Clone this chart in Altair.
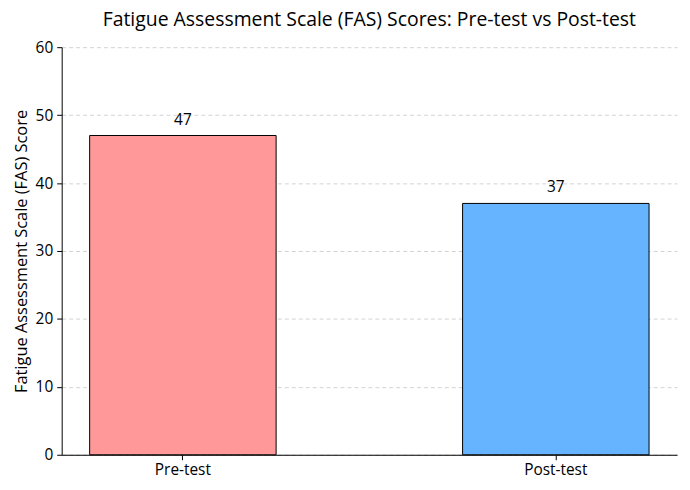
import altair as alt
import pandas as pd

categories = ["Pre-test", "Post-test"]
scores = [47, 37]
colors = ["#ff9999", "#66b3ff"]

df = pd.DataFrame({"Test": categories, "Score": scores, "Color": colors})

FONT = "Open Sans"

base = alt.Chart(df).encode(
    x=alt.X("Test:N", sort=categories,
            scale=alt.Scale(paddingInner=0.5, paddingOuter=0.075),
            axis=alt.Axis(title=None, labelAngle=0, labelFontSize=15.5, labelColor="#000",
                          domainColor="#000", tickColor="#000", tickSize=5,
                          labelPadding=3, grid=False, labelFont=FONT)),
    y=alt.Y("Score:Q", scale=alt.Scale(domain=[0, 60], nice=False),
            axis=alt.Axis(title="Fatigue Assessment Scale (FAS) Score", values=[0, 10, 20, 30, 40, 50, 60],
                          titleFontSize=16.5, titleFontWeight="normal", titleColor="#000",
                          titleFont=FONT, labelFont=FONT, titlePadding=6,
                          labelFontSize=15.5, labelColor="#000", domainColor="#000",
                          tickColor="#000", tickSize=5, labelPadding=4,
                          grid=True, gridColor="#c8c8c8", gridDash=[4, 3], gridWidth=0.8)),
)

bars = base.mark_bar(stroke="black", strokeWidth=1).encode(
    color=alt.Color("Color:N", scale=None)
)

labels = base.mark_text(baseline="bottom", dy=-8, fontSize=15.5, font=FONT, color="#000").encode(
    text=alt.Text("Score:Q")
)

chart = (bars + labels).properties(
    width=619, height=410,
    title=alt.TitleParams("Fatigue Assessment Scale (FAS) Scores: Pre-test vs Post-test",
                          fontSize=19.5, fontWeight="normal", font=FONT, color="#000", offset=10),
    autosize=alt.AutoSizeParams(type="none"),
    padding={"left": 54, "top": 38, "right": 5, "bottom": 30},
).configure_view(stroke=None)

chart.save("out.html", embed_options={"renderer": "svg", "actions": False})
